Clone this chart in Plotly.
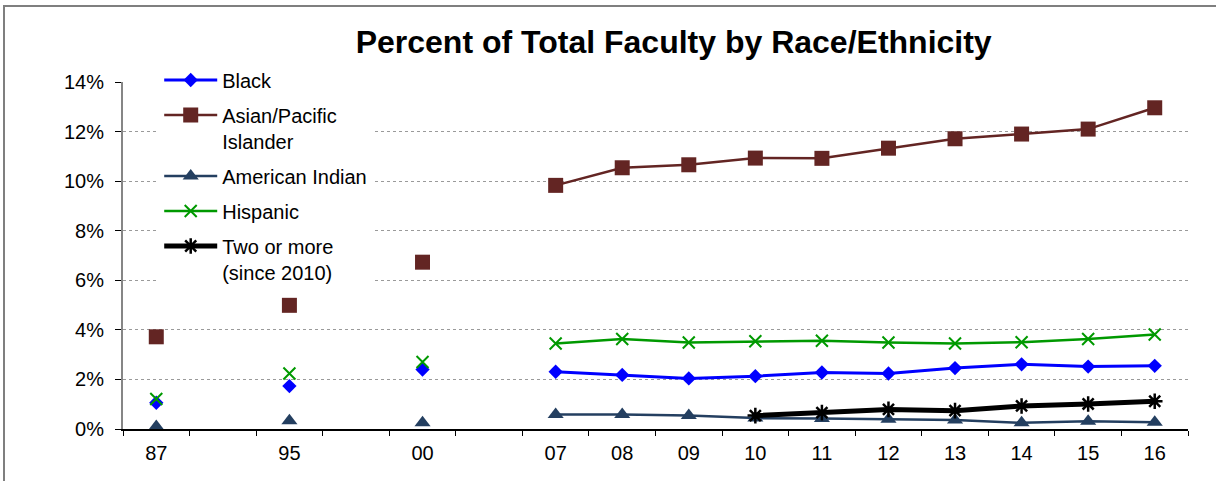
import plotly.graph_objects as go

# Category slots (blank slots keep the spacing of the original chart)
categories = ["87", " ", "95", "  ", "00", "   ", "07", "08", "09", "10", "11", "12", "13", "14", "15", "16"]

black = [1.06, None, 1.73, None, 2.40, None, 2.31, 2.18, 2.04, 2.13, 2.28, 2.24, 2.46, 2.61, 2.52, 2.55]
asian = [3.72, None, 4.99, None, 6.73, None, 9.83, 10.54, 10.66, 10.93, 10.92, 11.33, 11.71, 11.90, 12.10, 12.96]
amer_indian = [0.10, None, 0.33, None, 0.25, None, 0.58, 0.59, 0.54, 0.44, 0.42, 0.39, 0.36, 0.25, 0.31, 0.27]
hispanic = [1.21, None, 2.24, None, 2.70, None, 3.45, 3.63, 3.49, 3.54, 3.56, 3.49, 3.45, 3.50, 3.63, 3.81]
two_more = [None, None, None, None, None, None, None, None, None, 0.54, 0.66, 0.79, 0.74, 0.93, 1.01, 1.12]

y_ticks = [0, 2, 4, 6, 8, 10, 12, 14]
y_tick_text = ["0%", "2%", "4%", "6%", "8%", "10%", "12%", "14%"]

FONT = "Liberation Sans, Arial, sans-serif"

series = [
    ("Black", black, "#0000FF", "diamond", 11, 3, 0),
    ("Asian/Pacific<br>Islander", asian, "#632523", "square", 15, 2.5, 0),
    ("American Indian", amer_indian, "#243F60", "triangle-up", 14, 2.5, 0),
    ("Hispanic", hispanic, "#009900", "x-thin-open", 12, 2.5, 2),
    ("Two or more<br>(since 2010)", two_more, "#000000", "asterisk-open", 13, 5, 2.5),
]

fig = go.Figure()
for i, (name, vals, color, sym, size, lw, mlw) in enumerate(series):
    fig.add_trace(go.Scatter(
        x=categories, y=[v / 100 if v is not None else None for v in vals],
        name=name, mode="lines+markers", connectgaps=False,
        line=dict(color=color, width=lw),
        marker=dict(symbol=sym, size=size, color=color,
                    line=dict(width=mlw, color=color)),
        legendgroup=str(i),
    ))

fig.update_layout(
    width=1216, height=481,
    margin=dict(l=123, r=28, t=82, b=52),
    paper_bgcolor="white", plot_bgcolor="white",
    font=dict(family=FONT, size=20, color="black"),
    title=dict(text="<b>Percent of Total Faculty by Race/Ethnicity</b>",
               font=dict(family=FONT, size=32, color="black"),
               x=0.554, xanchor="center", y=0.913, yanchor="middle",
               xref="container", yref="container"),
    showlegend=True,
    legend=dict(x=0.034, xanchor="left", y=1.062, yanchor="top",
                bgcolor="white", borderwidth=0,
                font=dict(family=FONT, size=20, color="black"),
                tracegroupgap=6, valign="top", itemwidth=53),
    xaxis=dict(type="category", categoryorder="array", categoryarray=categories,
               range=[-0.5, len(categories) - 0.5],
               tickson="boundaries", ticks="outside", ticklen=5, tickcolor="black",
               ticklabelstandoff=5,
               showline=True, linecolor="black", linewidth=1.5,
               showgrid=False, zeroline=False,
               tickfont=dict(family=FONT, size=20, color="black")),
    yaxis=dict(range=[0, 0.14], tickvals=[t / 100 for t in y_ticks], ticktext=y_tick_text,
               ticks="outside", ticklen=6, tickcolor="black",
               ticklabelstandoff=7,
               showline=True, linecolor="#868686", linewidth=2,
               showgrid=True, gridcolor="#9a9a9a", griddash="dot", gridwidth=1,
               zeroline=False,
               tickfont=dict(family=FONT, size=20, color="black")),
    shapes=[dict(type="rect", xref="paper", yref="paper",
                 x0=(4 - 123) / 1065, x1=(1225 - 123) / 1065,
                 y0=(429 - 490) / 347, y1=(429 - 6) / 347,
                 line=dict(color="#7f7f7f", width=2), fillcolor="rgba(0,0,0,0)",
                 layer="below")],
)

fig.write_html("out.html", config={"displayModeBar": False},
               post_script="document.body.style.margin='0px';")
